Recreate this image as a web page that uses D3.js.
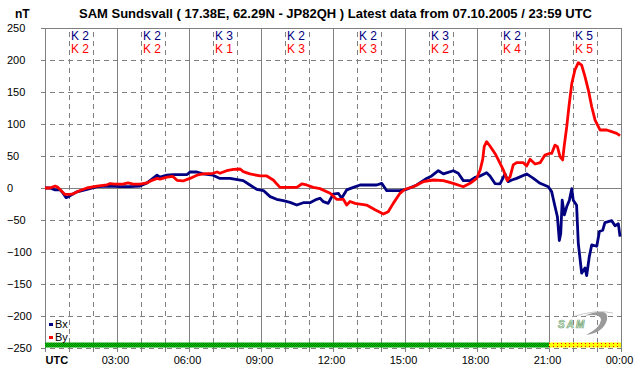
<!DOCTYPE html>
<html>
<head>
<meta charset="utf-8">
<script src="https://cdn.jsdelivr.net/npm/d3@7"></script>
<style>
  body { margin: 0; background: #fff; }
  text { font-family: "Liberation Sans", Arial, sans-serif; }
</style>
</head>
<body>
<script>
// hours since 00:00 UTC, nT
var bxData = [[0,0],[0.21,0],[0.42,-3],[0.63,-3],[0.75,-8],[0.88,-15],[0.96,-14],[1.13,-10],[1.33,-6],[1.75,-2],
  [2.17,2],[2.71,3],[3.13,2],[3.54,2],[3.96,3],[4.25,8],[4.67,20],[4.79,17],[5.08,20],[5.33,21],[5.92,21],[6.04,25],
  [6.33,25],[6.58,22],[7.0,20],[7.29,15],[7.71,15],[8.26,11.5],[8.54,4.7],[8.82,-2],[9.10,-4],[9.38,-13.5],[9.65,-17.7],
  [9.93,-19.8],[10.21,-22.4],[10.49,-26.6],[10.76,-23],[11.04,-23],[11.32,-17.7],[11.46,-16],[11.6,-21.4],[11.8,-24],
  [12.01,-9.4],[12.22,-8.3],[12.36,-16],[12.57,-3],[12.85,1],[13.13,4.7],[13.54,4.7],[13.82,4.7],[14.03,7.3],
  [14.24,-4.2],[14.79,-4.2],[15.07,-2],[15.49,4.7],[15.9,15],[16.11,18.8],[16.39,27],[16.6,22],[17.01,27],[17.22,23],
  [17.43,11.5],[17.71,11.5],[17.92,16.7],[18.15,19],[18.4,24],[18.54,18.8],
  [18.75,7],[18.96,6.3],[19.17,22],[19.3,10],[19.45,12.5],[19.65,15],[20.07,22],[20.35,15],[20.63,7.3],[20.97,2],
  [21.11,-5.7],[21.25,-29],[21.35,-45],[21.43,-82],[21.49,-71],[21.55,-19],[21.64,-42],[21.74,-29],[21.85,-19],
  [21.95,-1],[22.01,-19],[22.15,-27],[22.22,-86],[22.36,-133],[22.5,-125],[22.57,-137],[22.68,-107],[22.78,-89],
  [22.99,-91],[23.1,-68],[23.24,-66],[23.33,-54],[23.61,-51],[23.75,-59],[23.89,-56],[23.96,-76]];

var byData = [[0,0],[0.21,0],[0.42,3],[0.54,1],[0.83,-10],[1.04,-10],[1.17,-9],[1.46,-4],[1.75,0],[2.17,3],[2.58,5],
  [2.71,7],[2.92,6],[3.25,6],[3.46,8],[3.67,6],[3.96,6],[4.25,8],[4.46,12],[4.67,15],[4.79,14],[5.08,17],[5.33,18],
  [5.5,12],[5.75,11],[6.04,15],[6.33,20],[6.58,22],[7.0,23],[7.17,25],[7.29,23],[7.57,27],[7.85,29],[8.13,29.7],
  [8.26,25.5],[8.54,22],[8.96,18.8],[9.24,18.8],[9.51,12.5],[9.79,1],[10.49,1],[10.7,6.3],[10.9,4.7],[11.18,1],
  [11.46,-1],[11.88,-8.3],[12.15,-17.7],[12.43,-17.7],[12.57,-26.6],[12.71,-21],[12.92,-24],[13.4,-26.6],[13.75,-34],
  [14.1,-40.6],[14.3,-37],[14.51,-24],[14.79,-8.3],[15.0,-2],[15.35,2],[15.76,9.9],[16.18,12.5],
  [16.6,11.5],[17.01,7.3],[17.43,2],[17.71,7.3],[17.99,15],[18.13,28],[18.24,45],
  [18.3,64.6],[18.4,72.4],[18.54,65.6],[18.75,54],[18.89,44],[19.1,28],[19.26,11.5],[19.38,17.7],[19.51,36],
  [19.65,39.6],[19.93,39.6],[20.07,34.4],[20.21,44.8],[20.42,37.5],[20.63,39.6],[20.83,51.6],[21.04,54.2],[21.11,54],
  [21.25,67],[21.35,64.6],[21.46,49],[21.57,43.8],[21.63,64.6],[21.74,95.8],[21.83,127],[21.95,163.5],[22.08,184.4],
  [22.22,195.8],[22.36,192],[22.5,174],[22.64,153],[22.78,127],[22.92,106],[23.13,90.6],[23.4,90.6],[23.61,88],
  [23.82,85.4],[23.96,81.8]];

var kBx = [2, 2, 3, 2, 2, 3, 2, 5];
var kBy = [2, 2, 1, 3, 3, 2, 4, 5];
var yTicks = d3.range(-250, 251, 50);
var hourTicks = d3.range(0, 25);
var statusBar = [{from: 0, to: 21, fill: "url(#okPat)"}, {from: 21, to: 24, fill: "url(#warnPat)"}];

var width = 642, height = 376;
var x = d3.scaleLinear().domain([0, 24]).range([45, 621]);
var y = d3.scaleLinear().domain([-250, 250]).range([348, 28]);

var svg = d3.select("body").append("svg")
    .attr("width", width)
    .attr("height", height);

var defs = svg.append("defs");
var ok = defs.append("pattern").attr("id", "okPat").attr("patternUnits", "userSpaceOnUse")
    .attr("width", 2).attr("height", 2);
ok.append("rect").attr("width", 2).attr("height", 2).attr("fill", "#00d000");
ok.append("rect").attr("width", 1).attr("height", 1).attr("fill", "#007000");
ok.append("rect").attr("x", 1).attr("y", 1).attr("width", 1).attr("height", 1).attr("fill", "#007000");
var warn = defs.append("pattern").attr("id", "warnPat").attr("patternUnits", "userSpaceOnUse")
    .attr("width", 4).attr("height", 3).attr("y", 342);
warn.append("rect").attr("width", 4).attr("height", 3).attr("fill", "#ffff00");
warn.append("rect").attr("x", 1).attr("y", 1).attr("width", 1).attr("height", 1).attr("fill", "#ff0000");

svg.append("rect").attr("width", width).attr("height", height).attr("fill", "#fff");

// titles first
svg.append("text")
    .attr("class", "unit")
    .attr("x", 15).attr("y", 18)
    .attr("font-size", 12).attr("font-weight", "bold")
    .text("nT");
svg.append("text")
    .attr("class", "title")
    .attr("x", 79).attr("y", 18)
    .attr("font-size", 12).attr("font-weight", "bold")
    .attr("textLength", 513).attr("lengthAdjust", "spacingAndGlyphs")
    .text("SAM Sundsvall ( 17.38E, 62.29N - JP82QH ) Latest data from 07.10.2005 / 23:59 UTC");

// horizontal grid + y labels
var yAxis = svg.append("g")
    .attr("transform", "translate(41,0)")
    .call(d3.axisLeft(y).tickValues(yTicks).tickSize(-(621 - 41)).tickFormat(d3.format("d")));
yAxis.select(".domain").remove();
yAxis.selectAll(".tick line")
    .attr("stroke", "#808080")
    .attr("stroke-dasharray", function(d) { return (d === 0 || d === 250) ? null : "5,4"; });
yAxis.selectAll(".tick text")
    .attr("x", -34)
    .attr("dy", "0.36em")
    .attr("text-anchor", "start")
    .attr("font-size", 11)
    .attr("font-family", "Liberation Sans, Arial, sans-serif")
    .attr("fill", "#000");

// vertical grid + time labels
var xAxis = svg.append("g")
    .attr("transform", "translate(0,352)")
    .call(d3.axisBottom(x).tickValues(hourTicks).tickSize(-(352 - 28))
        .tickFormat(function(d) {
            if (d === 0) return "UTC";
            if (d % 3 !== 0) return "";
            return d3.format("02d")(d % 24) + ":00";
        }));
xAxis.select(".domain").remove();
xAxis.selectAll(".tick line")
    .attr("stroke", "#808080")
    .attr("stroke-dasharray", function(d) { return d % 3 === 0 ? null : "5,4"; });
xAxis.selectAll(".tick text")
    .attr("y", 4)
    .attr("font-size", 11)
    .attr("font-family", "Liberation Sans, Arial, sans-serif")
    .attr("fill", "#000")
    .attr("x", function(d) { return d === 0 ? 0 : -2; })
    .attr("text-anchor", function(d) { return d === 0 ? "start" : "middle"; })
    .attr("font-weight", function(d) { return d === 0 ? "bold" : null; });

// data lines
var line = d3.line()
    .x(function(d) { return x(d[0]); })
    .y(function(d) { return y(d[1]); });

svg.append("path").datum(bxData)
    .attr("d", line)
    .attr("fill", "none")
    .attr("stroke", "#000080")
    .attr("stroke-width", 2.8)
    .attr("stroke-linejoin", "round");

svg.append("path").datum(byData)
    .attr("d", line)
    .attr("fill", "none")
    .attr("stroke", "#ff0000")
    .attr("stroke-width", 2.8)
    .attr("stroke-linejoin", "round");

// status bar
svg.selectAll(".status").data(statusBar).enter().append("rect")
    .attr("class", "status")
    .attr("x", function(d) { return x(d.from); })
    .attr("width", function(d) { return x(d.to) - x(d.from); })
    .attr("y", 342.5)
    .attr("height", 5)
    .attr("fill", function(d) { return d.fill; });

// K indices
svg.selectAll(".kbx").data(kBx).enter().append("text")
    .attr("class", "kbx")
    .attr("x", function(d, i) { return x(i * 3 + 1.5) - 1; })
    .attr("y", 40)
    .attr("text-anchor", "middle")
    .attr("font-size", 12)
    .attr("fill", "#000080")
    .text(function(d) { return "K " + d; });
svg.selectAll(".kby").data(kBy).enter().append("text")
    .attr("class", "kby")
    .attr("x", function(d, i) { return x(i * 3 + 1.5) - 1; })
    .attr("y", 53)
    .attr("text-anchor", "middle")
    .attr("font-size", 12)
    .attr("fill", "#ff0000")
    .text(function(d) { return "K " + d; });

// legend
var legend = [{name: "Bx", color: "#000080"}, {name: "By", color: "#ff0000"}];
var lg = svg.selectAll(".leg").data(legend).enter().append("g")
    .attr("class", "leg")
    .attr("transform", function(d, i) { return "translate(49," + (323 + i * 13) + ")"; });
lg.append("rect").attr("width", 4).attr("height", 3).attr("fill", function(d) { return d.color; });
lg.append("text").attr("x", 6).attr("y", 5).attr("font-size", 11).text(function(d) { return d.name; });

// logo
var logo = svg.append("g");
logo.append("path")
    .attr("d", "M584 316 Q610 306 607 320 Q603 333 586 335 Q600 328 601 320 Q601 313 584 316 Z")
    .attr("fill", "#9a9a9a");
logo.append("path")
    .attr("d", "M572 317 Q596 309 613 313")
    .attr("fill", "none").attr("stroke", "#b0b0b0").attr("stroke-width", 0.7);
logo.append("text")
    .attr("x", 558).attr("y", 328)
    .attr("font-size", 10).attr("font-weight", "bold").attr("font-style", "italic")
    .attr("letter-spacing", 2)
    .attr("fill", "#eef8ee").attr("stroke", "#78a878").attr("stroke-width", 0.7)
    .text("SAM");
</script>
</body>
</html>
